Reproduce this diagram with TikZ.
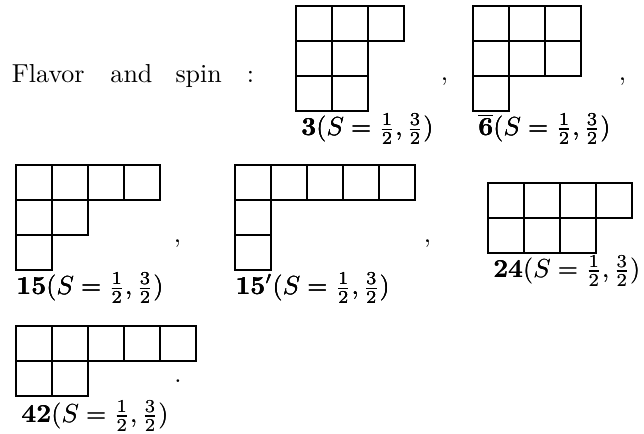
\documentclass[tikz,border=0pt]{standalone}
\usepackage{amsmath}
\newcommand{\yrow}[3]{% left, top, number of boxes
  \foreach \i in {1,...,#3}
    \draw ({#1+(\i-1)*36},{#2}) rectangle ++(36,35);}
\newcommand{\young}[3]{% left, top, row lengths
  \foreach \n [count=\r from 0] in {#3}
    \yrow{#1}{#2+\r*35}{\n}}
\begin{document}
\begin{tikzpicture}[x=0.3846pt,y=-0.3846pt,line width=0.7692pt,
    lbl/.style={anchor=base west,inner sep=0pt}]
  \useasboundingbox (0,0) rectangle (644,434);
  % first line
  \node[lbl] (flavor) at (11,82.2) {Flavor};
  \node[lbl] (and) at (109.5,82.2) {and};
  \node[lbl] (spin) at (174.5,82.2) {spin};
  \node[lbl] (colon) at (246,82.2) {:};
  \young{296}{6}{3,2,2}
  \node[lbl] (n3) at (300.5,136) {$\mathbf{3}(S=\tfrac{1}{2},\tfrac{3}{2})$};
  \node[lbl] (c1) at (440,80.5) {,};
  \young{473}{6}{3,3,1}
  \node[lbl] (n6b) at (477.5,135.5) {$\overline{\mathbf{6}}(S=\tfrac{1}{2},\tfrac{3}{2})$};
  \node[lbl] (c2) at (618,80.5) {,};
  % second line
  \young{16}{165}{4,2,1}
  \node[lbl] (n15) at (15.5,295) {$\mathbf{15}(S=\tfrac{1}{2},\tfrac{3}{2})$};
  \node[lbl] (c3) at (173,243) {,};
  \young{235}{165}{5,1,1}
  \node[lbl] (n15p) at (234.5,295) {$\mathbf{15}'(S=\tfrac{1}{2},\tfrac{3}{2})$};
  \node[lbl] (c4) at (423,243) {,};
  \young{488}{183}{4,3}
  \node[lbl] (n24) at (492.3,277.5) {$\mathbf{24}(S=\tfrac{1}{2},\tfrac{3}{2})$};
  % third line
  \young{16}{326}{5,2}
  \node[lbl] (n42) at (20.5,422.5) {$\mathbf{42}(S=\tfrac{1}{2},\tfrac{3}{2})$};
  \node[lbl] (dot) at (173.5,383) {.};
\end{tikzpicture}
\end{document}
